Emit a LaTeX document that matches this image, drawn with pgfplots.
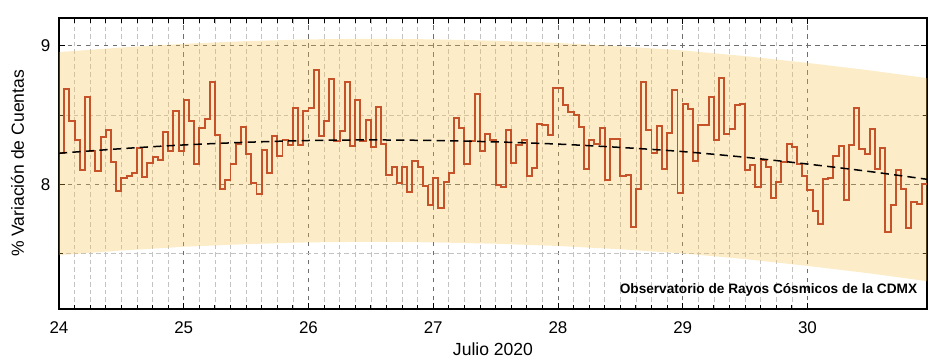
\documentclass[border=0pt]{standalone}
\usepackage{pgfplots}
\pgfplotsset{compat=1.18}
\usepackage{pgfplotstable}
\usepackage{fontspec}
\setmainfont{Liberation Sans}
\definecolor{stepc}{RGB}{198,82,42}
\definecolor{bandc}{RGB}{248,192,72}
\definecolor{majg}{RGB}{110,110,110}
\definecolor{ming}{RGB}{195,195,195}

\pgfplotstableread{
v
8.225
8.690
8.457
8.317
8.100
8.630
8.240
8.096
8.344
8.390
8.160
7.954
8.046
8.058
8.084
8.264
8.055
8.151
8.197
8.178
8.377
8.238
8.529
8.238
8.606
8.457
8.144
8.404
8.474
8.738
8.353
7.964
8.029
8.144
8.288
8.416
8.221
8.007
7.928
8.245
8.079
8.346
8.202
8.322
8.281
8.548
8.281
8.529
8.553
8.825
8.349
8.457
8.762
8.313
8.385
8.740
8.276
8.608
8.313
8.462
8.272
8.558
8.293
8.067
8.127
8.012
8.127
7.945
8.168
8.125
7.988
7.851
8.043
7.832
8.019
8.084
8.481
8.404
8.144
8.313
8.649
8.240
8.365
8.317
7.993
7.981
8.389
8.156
8.281
8.317
8.060
8.115
8.433
8.428
8.353
8.692
8.692
8.570
8.522
8.498
8.413
8.108
8.320
8.288
8.404
8.034
8.329
8.329
8.060
8.067
7.695
7.969
8.736
8.389
8.228
8.421
8.113
8.368
8.678
7.938
8.582
8.541
8.168
8.428
8.428
8.630
8.317
8.769
8.365
8.397
8.572
8.582
8.101
8.139
7.981
8.173
8.127
7.904
8.019
8.161
8.288
8.269
8.144
8.060
7.959
7.808
7.716
8.041
8.048
8.204
8.276
7.887
8.281
8.553
8.252
8.221
8.401
8.113
8.260
7.656
7.849
8.101
7.964
7.683
7.873
7.856
8.000
8.000
}\datatable

\begin{document}
\begin{tikzpicture}
\useasboundingbox (-39.33pt,-35.33pt) rectangle (588.67pt,206pt);
\begin{axis}[
  at={(0,0)}, anchor=south west,
  scale only axis,
  width=578.67pt, height=194pt,
  xmin=24, xmax=30.9583,
  ymin=7.1, ymax=9.2,
  xtick={24,25,26,27,28,29,30},
  minor x tick num=7,
  ytick={8,9},
  minor ytick={7.5,8.5},
  tick align=inside,
  major tick length=4pt,
  minor tick length=3pt,
  tick style={black, line width=0.6pt},
  axis line style={line width=1.2pt},
  grid=both,
  major grid style={majg, dashed, line width=0.5pt},
  minor grid style={ming, densely dashed, line width=0.45pt},
  /pgf/number format/assume math mode=true,
  tick label style={font=\fontsize{11.3}{13}\selectfont},
  xticklabel style={yshift=-4.9pt},
  yticklabel style={xshift=-2.2pt},
  label style={font=\fontsize{11.7}{14}\selectfont},
  xlabel={Julio 2020},
  ylabel={\% Variación de Cuentas},
  xlabel style={at={(axis description cs:0.5,-0.1375)}, anchor=center},
  ylabel style={at={(axis description cs:-0.0479,0.5)}, anchor=center, rotate=0},
  clip=true,
]
% band
\addplot[draw=none, fill=bandc, fill opacity=0.3] coordinates {
(24.0,8.954) (24.5,8.987) (25.0,9.014) (25.5,9.033) (26.0,9.046) (26.5,9.050)
(27.0,9.046) (27.5,9.036) (28.0,9.020) (28.5,8.996) (29.0,8.966) (29.5,8.925)
(30.0,8.876) (30.5,8.822) (30.9583,8.766)
(30.9583,7.301) (30.5,7.357) (30.0,7.411) (29.5,7.460) (29.0,7.501) (28.5,7.531)
(28.0,7.555) (27.5,7.571) (27.0,7.581) (26.5,7.585) (26.0,7.581) (25.5,7.568)
(25.0,7.549) (24.5,7.522) (24.0,7.489)
} -- cycle;
% data
\addplot[const plot, stepc, line width=1.3pt, line join=miter] table[x expr=24+\coordindex/24, y=v] {\datatable};
% trend
\addplot[black, line width=1pt, dash pattern=on 5.5pt off 3.5pt, smooth] coordinates {
(24.0,8.224) (24.5,8.257) (25.0,8.284) (25.5,8.303) (26.0,8.316) (26.5,8.320)
(27.0,8.316) (27.5,8.306) (28.0,8.290) (28.5,8.266) (29.0,8.236) (29.5,8.195)
(30.0,8.146) (30.5,8.092) (30.9583,8.036)
};
\node[anchor=east, inner sep=0pt, font=\fontsize{9.1}{11}\selectfont\bfseries] at (axis description cs:0.989,0.065) {Observatorio de Rayos Cósmicos de la CDMX};
\end{axis}
\end{tikzpicture}
\end{document}
